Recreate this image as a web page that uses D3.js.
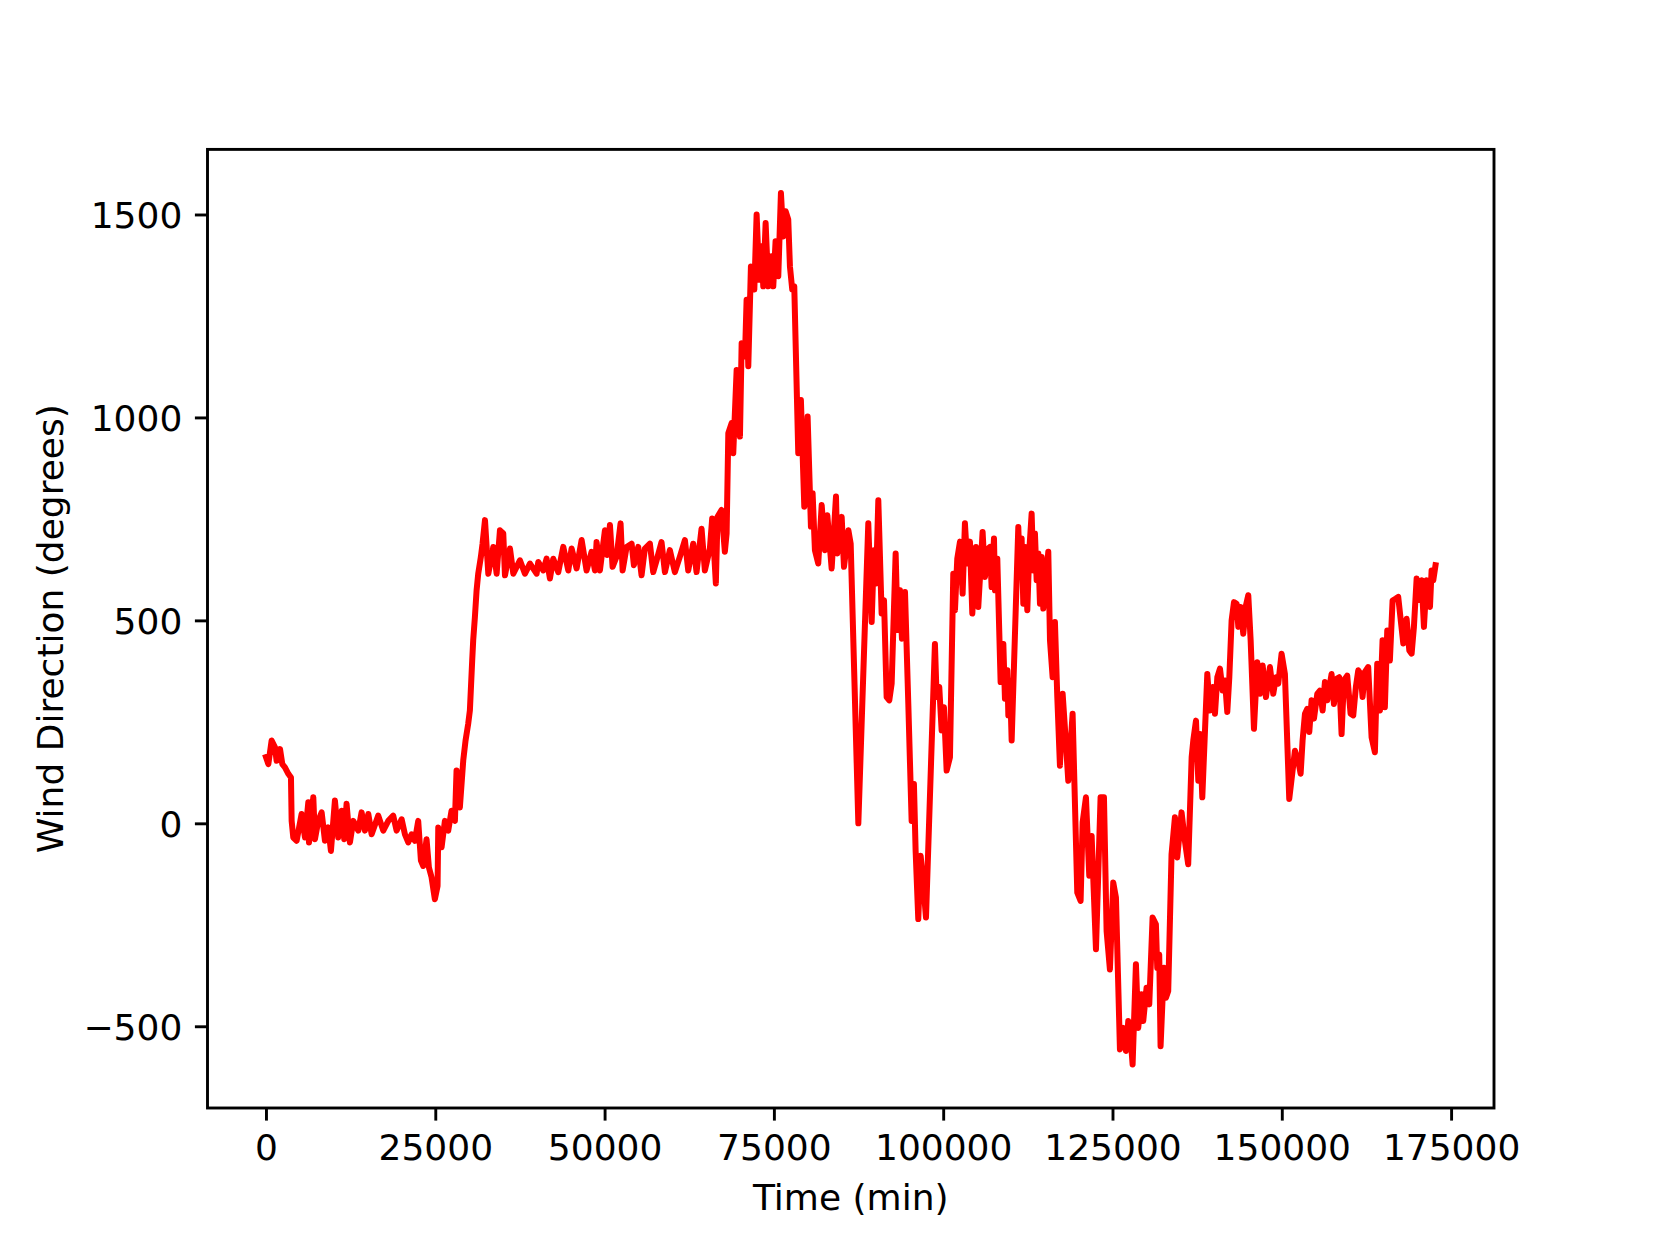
<!DOCTYPE html>
<html>
<head>
<meta charset="utf-8">
<script src="https://cdn.jsdelivr.net/npm/d3@7"></script>
<style>
  html, body { margin: 0; padding: 0; background: #fff; }
  text { font-family: "DejaVu Sans", sans-serif; fill: #000; }
</style>
</head>
<body>
<div id="chart"></div>
<script>
// wind direction trace as [minute, degrees]
const series = [
  [0,163],[350,146],[836,204],[1330,187],[1570,154],[2070,183],[2410,146],[2800,138],[3300,122],[3690,113],
  [3790,6],[4030,-35],[4530,-43],[5260,23],[5760,-35],[6250,52],[6350,-47],[6990,64],[7230,-39],[7720,6],
  [8220,27],[8710,-43],[9200,-10],[9590,-68],[10180,56],[10670,-35],[11170,31],[11560,-39],[11900,48],[12400,-47],
  [12890,6],[13630,-18],[14120,27],[14610,-18],[15110,23],[15600,-27],[16580,19],[17320,-18],[18060,6],[18790,19],
  [19290,-18],[20030,10],[20520,-27],[21010,-47],[21500,-27],[21990,-43],[22480,6],[22880,-92],[23220,-105],[23710,-39],
  [24060,-109],[24450,-133],[24940,-187],[25340,-154],[25440,-10],[25930,-59],[26420,6],[26910,-18],[27400,31],[27900,6],
  [28140,130],[28630,39],[29130,155],[29470,204],[29860,245],[30110,278],[30450,401],[30600,451],[30850,508],[31100,574],
  [31340,615],[31730,656],[31980,689],[32340,747],[32830,615],[33570,681],[34060,615],[34550,722],[35040,714],[35290,611],
  [36030,677],[36520,615],[37500,648],[38240,615],[38980,640],[39960,615],[40210,644],[40950,623],[41440,652],[41930,603],
  [42420,652],[43160,619],[43900,681],[44640,623],[45130,677],[45870,628],[46610,698],[47340,623],[48080,669],[48580,623],
  [48820,693],[49310,623],[50050,722],[50390,661],[50790,735],[51180,632],[51770,657],[52360,739],[52660,623],[53250,681],
  [53990,689],[54330,636],[54970,681],[55460,611],[55950,677],[56690,689],[57180,619],[57680,648],[58410,693],[58910,619],
  [59640,673],[60380,619],[61120,657],[61860,698],[62350,623],[63090,689],[63580,619],[64320,726],[64810,623],[65550,677],
  [65890,751],[66430,591],[66680,755],[67270,772],[67760,669],[68020,714],[68270,961],[68760,986],[69000,912],[69500,1117],
  [69990,953],[70240,1183],[70730,1150],[70970,1290],[71220,1126],[71610,1372],[72110,1315],[72450,1500],[72840,1339],[73190,1422],
  [73430,1323],[73780,1479],[74170,1323],[74660,1397],[74910,1323],[75250,1434],[75650,1348],[76040,1553],[76390,1446],[76730,1508],
  [77120,1488],[77370,1372],[77710,1315],[78010,1323],[78600,912],[78990,1043],[79490,780],[79980,1002],[80470,731],[80720,813],
  [81060,673],[81550,640],[82060,784],[82550,673],[82890,759],[83530,628],[84170,805],[84370,665],[85010,755],[85350,632],
  [86000,722],[86340,689],[87470,0],[88940,739],[89440,496],[89780,673],[90080,591],[90420,796],[90910,517],[91260,550],
  [91650,311],[92040,303],[92390,344],[92980,665],[93270,476],[93620,574],[93910,455],[94360,570],[94850,294],[95340,6],
  [95680,97],[95930,-68],[96320,-236],[96670,-80],[96960,-129],[97460,-232],[98780,442],[99030,311],[99420,336],[99770,229],
  [100110,286],[100510,130],[101000,163],[101490,615],[101740,525],[102080,652],[102480,694],[102870,566],[103210,739],[103560,640],
  [103950,694],[104300,517],[104840,681],[105180,533],[105820,718],[106170,607],[106660,677],[106910,681],[107150,582],[107500,702],
  [107650,574],[107990,652],[108480,348],[108880,442],[109120,307],[109470,377],[109620,266],[109860,352],[110110,204],[111090,730],
  [111340,607],[111580,702],[111830,541],[112080,681],[112420,525],[112720,673],[113060,763],[113310,623],[113550,714],[113800,599],
  [114050,665],[114290,541],[114540,656],[114780,529],[115180,607],[115520,669],[115770,451],[116160,360],[116500,496],[116850,311],
  [117240,142],[117640,319],[118130,196],[118470,105],[119110,270],[119800,-171],[120290,-191],[120590,2],[121080,64],[121570,-129],
  [121920,-31],[122560,-310],[123240,64],[123740,64],[124130,-265],[124620,-360],[125110,-146],[125510,-183],[126100,-557],[126590,-504],
  [126980,-561],[127330,-487],[127670,-528],[127970,-594],[128460,-347],[128800,-504],[129300,-421],[129540,-487],[130030,-405],[130430,-446],
  [130920,-232],[131410,-249],[131610,-356],[131900,-323],[132100,-549],[132590,-356],[132890,-430],[133230,-413],[133720,-76],[134220,15],
  [134560,-84],[135200,27],[135690,-43],[136180,-101],[136690,163],[136930,204],[137330,253],[137670,105],[137920,220],[138260,64],
  [138660,229],[139000,368],[139390,278],[139790,336],[140130,270],[140480,360],[140870,381],[141260,327],[141610,352],[141950,274],
  [142250,360],[142590,500],[142940,545],[143330,541],[143580,484],[143920,533],[144310,467],[144710,537],[145050,562],[145400,451],
  [145550,385],[145890,233],[146380,397],[146770,319],[147170,389],[147660,311],[148250,385],[148740,319],[149140,360],[149480,344],
  [149970,418],[150460,368],[151100,60],[151940,179],[152430,154],[152780,122],[153070,204],[153420,270],[153760,282],[154060,225],
  [154400,303],[154750,258],[155240,319],[155630,327],[156030,278],[156370,348],[156720,303],[157350,368],[157700,294],[158090,356],
  [158480,360],[158830,220],[159170,352],[159660,364],[160160,270],[160550,266],[160940,336],[161290,377],[161630,368],[161930,311],
  [162270,373],[162760,385],[163260,212],[163750,175],[164090,393],[164490,278],[164880,451],[165220,286],[165570,475],[165960,401],
  [166360,549],[166850,554],[167190,558],[167940,443],[168430,504],[168830,426],[169170,418],[169510,484],[169910,603],[170300,550],
  [170650,599],[170990,484],[171380,599],[171880,533],[172120,623],[172370,599],[172700,636]
];

const xTicks = [0, 25000, 50000, 75000, 100000, 125000, 150000, 175000];
const yTicks = [-500, 0, 500, 1000, 1500];
const xTitle = "Time (min)";
const yTitle = "Wind Direction (degrees)";

const width = 1660;
const height = 1245;
const margin = {left: 207.5, top: 149.4, right: 1660 - 1494, bottom: 1245 - 1108};

// matplotlib-ish 5% padding on each side
function padded(ext) {
    const d = (ext[1] - ext[0]) * 0.05;
    return [ext[0] - d, ext[1] + d];
}

const x = d3.scaleLinear()
    .domain(padded(d3.extent(series, d => d[0])))
    .range([margin.left, width - margin.right]);

const y = d3.scaleLinear()
    .domain(padded(d3.extent(series, d => d[1])))
    .range([height - margin.bottom, margin.top]);

const svg = d3.select("#chart")
    .append("svg")
    .attr("width", width)
    .attr("height", height);

svg.append("rect")
    .attr("width", width)
    .attr("height", height)
    .attr("fill", "#fff");

const line = d3.line()
    .x(d => x(d[0]))
    .y(d => y(d[1]));

svg.append("path")
    .datum(series)
    .attr("d", line)
    .attr("fill", "none")
    .attr("stroke", "#ff0000")
    .attr("stroke-width", 6)
    .attr("stroke-linejoin", "round")
    .attr("stroke-linecap", "square");

const fmt = v => v < 0 ? "\u2212" + Math.abs(v) : String(v);

const xAxis = d3.axisBottom(x)
    .tickValues(xTicks)
    .tickFormat(fmt)
    .tickSize(12.6)
    .tickPadding(14)
    .tickSizeOuter(0);

const yAxis = d3.axisLeft(y)
    .tickValues(yTicks)
    .tickFormat(fmt)
    .tickSize(12.6)
    .tickPadding(12.6)
    .tickSizeOuter(0);

const gx = svg.append("g")
    .attr("transform", `translate(0,${height - margin.bottom})`)
    .call(xAxis);

const gy = svg.append("g")
    .attr("transform", `translate(${margin.left},0)`)
    .call(yAxis);

[gx, gy].forEach(g => {
    g.select(".domain").remove();
    g.selectAll(".tick line").attr("stroke", "#000").attr("stroke-width", 2.9);
    g.selectAll(".tick text")
        .style("font-family", "'DejaVu Sans', sans-serif")
        .style("font-size", "36px")
        .attr("fill", "#000");
});

gx.selectAll(".tick text").attr("dy", "0.71em");
gy.selectAll(".tick text").attr("dy", "0.36em");

// frame around the axes
svg.append("rect")
    .attr("x", margin.left)
    .attr("y", margin.top)
    .attr("width", width - margin.left - margin.right)
    .attr("height", height - margin.top - margin.bottom)
    .attr("fill", "none")
    .attr("stroke", "#000")
    .attr("stroke-width", 2.9);

svg.append("text")
    .attr("x", (margin.left + width - margin.right) / 2)
    .attr("y", 1210)
    .attr("text-anchor", "middle")
    .style("font-size", "36px")
    .text(xTitle);

svg.append("text")
    .attr("transform", `translate(63,${(margin.top + height - margin.bottom) / 2}) rotate(-90)`)
    .attr("text-anchor", "middle")
    .style("font-size", "36px")
    .text(yTitle);
</script>
</body>
</html>
